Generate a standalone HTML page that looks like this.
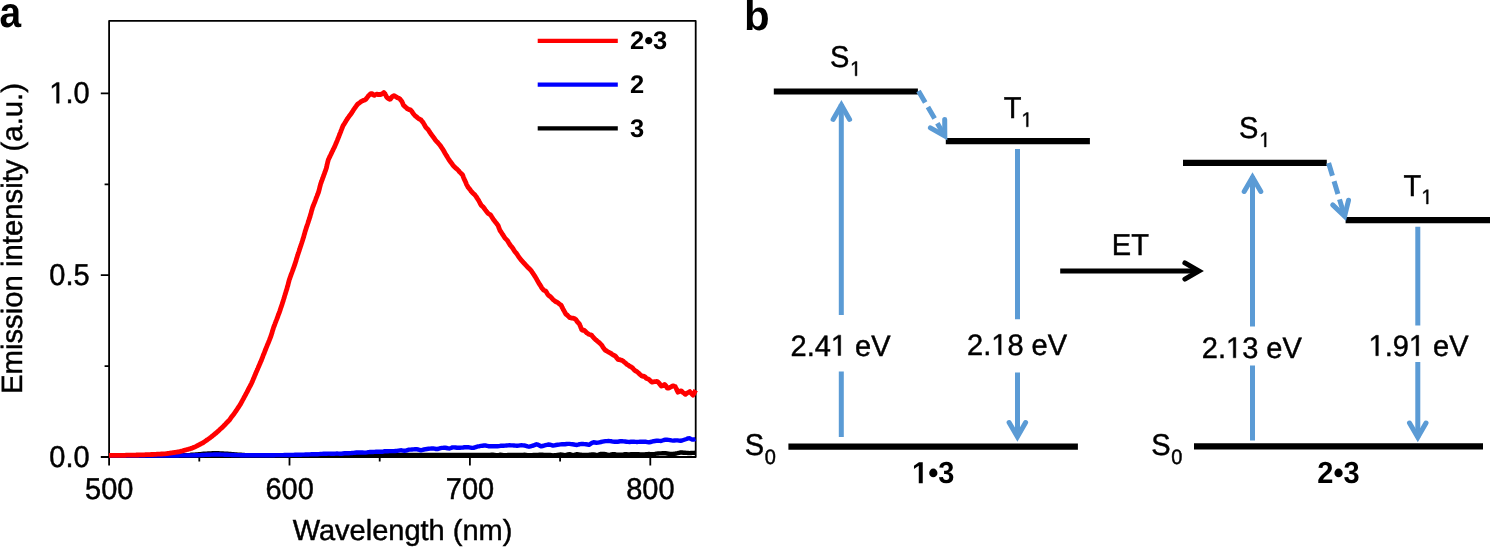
<!DOCTYPE html>
<html><head><meta charset="utf-8">
<style>
html,body{margin:0;padding:0;background:#fff;width:1490px;height:548px;overflow:hidden;}
svg{display:block;will-change:transform;}
text{font-family:"Liberation Sans",sans-serif;fill:#000;text-rendering:geometricPrecision;stroke:#000;stroke-width:0.45px;}
.one{stroke:none;}
.b{font-weight:bold;}
.b text, text.b{stroke:none;}
.one{fill:transparent;}
</style></head><body>
<svg width="1490" height="548" viewBox="0 0 1490 548">
<!-- Panel a -->
<text transform="matrix(0.925 0 0 1.02 -0.6 27)" class="b" font-size="42">a</text>
<g stroke="#000" stroke-width="1.8" fill="none" stroke-linejoin="round">
<rect x="109.1" y="20.9" width="586.6" height="436.1"/>
<path d="M100.8 93.4H109.1M100.8 275.2H109.1M100.8 457H109.1M104.6 184.3H109.1M104.6 366.1H109.1"/>
<path d="M109.1 457V465.5M289.5 457V465.5M469.9 457V465.5M650.3 457V465.5M199.3 457V461.5M379.7 457V461.5M560.1 457V461.5"/>
</g>
<g font-size="29" text-anchor="end">
<text transform="matrix(1 0 0 1.04 89.6 103.2)" x="0" y="0"><tspan class="one">1</tspan>.0</text>
<text transform="matrix(1 0 0 1.04 89.6 285.0)" x="0" y="0">0.5</text>
<text transform="matrix(1 0 0 1.04 89.6 466.6)" x="0" y="0">0.0</text>
</g>
<g font-size="29" text-anchor="middle">
<text transform="matrix(1 0 0 1.04 109.2 498.8)" x="0" y="0">500</text>
<text transform="matrix(1 0 0 1.04 289.6 498.8)" x="0" y="0">600</text>
<text transform="matrix(1 0 0 1.04 470.0 498.8)" x="0" y="0">700</text>
<text transform="matrix(1 0 0 1.04 650.4 498.8)" x="0" y="0">800</text>
<text transform="matrix(1 0 0 1.0 402.5 540.3)" x="0" y="0">Wavelength (nm)</text>
<text transform="translate(22,238.5) rotate(-90)" font-size="29.3">Emission intensity (a.u.)</text>
</g>
<g fill="none" stroke-linejoin="round" stroke-linecap="butt">
<polyline stroke="#000" stroke-width="4.4" points="109.0,455.5 110.5,455.5 112.0,455.5 113.5,455.5 115.0,455.5 116.5,455.5 118.0,455.5 119.5,455.5 121.0,455.5 122.5,455.5 124.0,455.5 125.5,455.5 127.0,455.5 128.5,455.5 130.0,455.5 131.5,455.5 133.0,455.5 134.5,455.5 136.0,455.5 137.5,455.5 139.0,455.5 140.5,455.5 142.0,455.5 143.5,455.5 145.0,455.5 146.5,455.5 148.0,455.5 149.5,455.5 151.0,455.5 152.5,455.5 154.0,455.5 155.5,455.5 157.0,455.5 158.5,455.5 160.0,455.5 161.5,455.5 163.0,455.4 164.5,455.4 166.0,455.4 167.5,455.4 169.0,455.4 170.5,455.4 172.0,455.4 173.5,455.4 175.0,455.4 176.5,455.4 178.0,455.4 179.5,455.4 181.0,455.4 182.5,455.4 184.0,455.3 185.5,455.2 187.0,455.2 188.5,455.1 190.0,455.0 191.5,454.8 193.0,454.7 194.5,454.6 196.0,454.5 197.5,454.4 199.0,454.2 200.5,454.1 202.0,453.9 203.5,453.8 205.0,453.7 206.5,453.6 208.0,453.5 209.5,453.5 211.0,453.4 212.5,453.3 214.0,453.3 215.5,453.3 217.0,453.3 218.5,453.3 220.0,453.4 221.5,453.5 223.0,453.5 224.5,453.6 226.0,453.7 227.5,453.8 229.0,453.9 230.5,454.0 232.0,454.2 233.5,454.3 235.0,454.4 236.5,454.5 238.0,454.6 239.5,454.7 241.0,454.8 242.5,454.9 244.0,455.0 245.5,455.1 247.0,455.1 248.5,455.2 250.0,455.2 251.5,455.2 253.0,455.2 254.5,455.2 256.0,455.2 257.5,455.2 259.0,455.2 260.5,455.2 262.0,455.2 263.5,455.3 265.0,455.3 266.5,455.3 268.0,455.3 269.5,455.3 271.0,455.3 272.5,455.3 274.0,455.3 275.5,455.3 277.0,455.3 278.5,455.3 280.0,455.3 281.5,455.3 283.0,455.3 284.5,455.3 286.0,455.3 287.5,455.3 289.0,455.3 290.5,455.3 292.0,455.3 293.5,455.3 295.0,455.3 296.5,455.3 298.0,455.3 299.5,455.3 301.0,455.3 302.5,455.3 304.0,455.3 305.5,455.3 307.0,455.3 308.5,455.3 310.0,455.3 311.5,455.3 313.0,455.3 314.5,455.3 316.0,455.3 317.5,455.3 319.0,455.3 320.5,455.3 322.0,455.3 323.5,455.3 325.0,455.3 326.5,455.3 328.0,455.3 329.5,455.2 331.0,455.2 332.5,455.2 334.0,455.2 335.5,455.2 337.0,455.2 338.5,455.2 340.0,455.2 341.5,455.2 343.0,455.2 344.5,455.2 346.0,455.2 347.5,455.2 349.0,455.2 350.5,455.2 352.0,455.2 353.5,455.2 355.0,455.2 356.5,455.1 358.0,455.1 359.5,455.1 361.0,455.1 362.5,455.1 364.0,455.1 365.5,455.1 367.0,455.1 368.5,455.1 370.0,455.1 371.5,455.1 373.0,455.1 374.5,455.1 376.0,455.1 377.5,455.1 379.0,455.1 380.5,455.1 382.0,455.0 383.5,455.0 385.0,455.0 386.5,455.0 388.0,455.0 389.5,455.0 391.0,455.0 392.5,455.0 394.0,455.0 395.5,455.0 397.0,455.0 398.5,455.0 400.0,455.0 401.5,455.0 403.0,455.0 404.5,455.0 406.0,455.0 407.5,455.0 409.0,455.0 410.5,455.0 412.0,455.0 413.5,455.0 415.0,455.0 416.5,455.0 418.0,455.0 419.5,455.0 421.0,455.0 422.5,455.0 424.0,455.0 425.5,455.0 427.0,455.0 428.5,455.0 430.0,455.0 431.5,455.0 433.0,455.0 434.5,455.0 436.0,455.0 437.5,455.0 439.0,455.0 440.5,454.9 442.0,454.9 443.5,454.9 445.0,454.9 446.5,454.9 448.0,454.9 449.5,454.9 451.0,454.9 452.5,454.9 454.0,454.9 455.5,454.9 457.0,454.9 458.5,454.9 460.0,454.9 461.5,454.9 463.0,454.9 464.5,454.9 466.0,454.9 467.5,454.9 469.0,454.9 470.5,454.9 472.0,455.0 473.5,455.0 475.0,455.0 476.5,455.0 478.0,455.0 479.5,455.0 481.0,455.0 482.5,455.0 484.0,455.0 485.5,455.0 487.0,455.0 488.5,454.9 490.0,454.9 491.5,454.8 493.0,454.8 494.5,454.9 496.0,455.1 497.5,455.1 499.0,455.0 500.5,454.8 502.0,454.9 503.5,455.1 505.0,455.2 506.5,455.1 508.0,455.0 509.5,454.9 511.0,454.9 512.5,454.9 514.0,454.9 515.5,454.9 517.0,454.9 518.5,454.9 520.0,455.0 521.5,455.0 523.0,454.9 524.5,454.8 526.0,454.9 527.5,455.1 529.0,455.3 530.5,455.2 532.0,455.1 533.5,455.0 535.0,455.0 536.5,454.9 538.0,454.9 539.5,454.8 541.0,454.7 542.5,454.8 544.0,454.9 545.5,454.9 547.0,454.9 548.5,454.9 550.0,455.0 551.5,455.2 553.0,455.4 554.5,455.3 556.0,455.2 557.5,455.0 559.0,454.8 560.5,454.5 562.0,454.6 563.5,454.9 565.0,455.3 566.5,454.8 568.0,454.4 569.5,454.2 571.0,454.7 572.5,455.2 574.0,455.0 575.5,454.6 577.0,454.2 578.5,454.4 580.0,454.6 581.5,454.8 583.0,454.9 584.5,455.0 586.0,455.0 587.5,454.9 589.0,454.8 590.5,454.6 592.0,454.4 593.5,454.4 595.0,454.7 596.5,455.1 598.0,454.9 599.5,454.4 601.0,453.9 602.5,454.0 604.0,454.0 605.5,454.2 607.0,454.6 608.5,455.0 610.0,454.9 611.5,454.5 613.0,454.2 614.5,454.3 616.0,454.5 617.5,454.6 619.0,454.6 620.5,454.7 622.0,454.6 623.5,454.5 625.0,454.3 626.5,454.3 628.0,454.4 629.5,454.4 631.0,454.3 632.5,454.3 634.0,454.2 635.5,454.2 637.0,454.2 638.5,454.3 640.0,454.5 641.5,454.5 643.0,454.4 644.5,454.4 646.0,454.3 647.5,454.2 649.0,454.0 650.5,454.1 652.0,454.2 653.5,454.1 655.0,453.9 656.5,453.6 658.0,453.5 659.5,453.4 661.0,453.4 662.5,453.3 664.0,453.2 665.5,453.3 667.0,453.5 668.5,453.7 670.0,453.9 671.5,453.9 673.0,454.0 674.5,453.8 676.0,453.5 677.5,453.2 679.0,452.8 680.5,452.5 682.0,452.5 683.5,452.7 685.0,452.8 686.5,452.9 688.0,453.0 689.5,453.1 691.0,453.0 692.5,452.9 694.0,452.9 695.5,452.8"/>
<polyline stroke="#0000ff" stroke-width="4.4" points="109.0,455.5 110.5,455.5 112.0,455.5 113.5,455.5 115.0,455.5 116.5,455.5 118.0,455.5 119.5,455.5 121.0,455.5 122.5,455.5 124.0,455.5 125.5,455.5 127.0,455.5 128.5,455.5 130.0,455.5 131.5,455.5 133.0,455.5 134.5,455.5 136.0,455.5 137.5,455.5 139.0,455.5 140.5,455.5 142.0,455.5 143.5,455.5 145.0,455.5 146.5,455.5 148.0,455.5 149.5,455.5 151.0,455.5 152.5,455.5 154.0,455.5 155.5,455.5 157.0,455.5 158.5,455.5 160.0,455.5 161.5,455.5 163.0,455.5 164.5,455.5 166.0,455.5 167.5,455.5 169.0,455.5 170.5,455.5 172.0,455.5 173.5,455.5 175.0,455.5 176.5,455.5 178.0,455.5 179.5,455.4 181.0,455.4 182.5,455.4 184.0,455.4 185.5,455.4 187.0,455.4 188.5,455.4 190.0,455.4 191.5,455.4 193.0,455.4 194.5,455.3 196.0,455.3 197.5,455.2 199.0,455.1 200.5,455.1 202.0,455.0 203.5,455.0 205.0,454.9 206.5,454.8 208.0,454.8 209.5,454.7 211.0,454.6 212.5,454.6 214.0,454.5 215.5,454.5 217.0,454.5 218.5,454.5 220.0,454.5 221.5,454.6 223.0,454.6 224.5,454.7 226.0,454.8 227.5,454.8 229.0,454.9 230.5,454.9 232.0,455.0 233.5,455.0 235.0,455.0 236.5,455.1 238.0,455.1 239.5,455.1 241.0,455.2 242.5,455.2 244.0,455.2 245.5,455.3 247.0,455.3 248.5,455.3 250.0,455.3 251.5,455.3 253.0,455.3 254.5,455.3 256.0,455.3 257.5,455.3 259.0,455.3 260.5,455.3 262.0,455.3 263.5,455.2 265.0,455.2 266.5,455.2 268.0,455.2 269.5,455.2 271.0,455.2 272.5,455.2 274.0,455.2 275.5,455.1 277.0,455.1 278.5,455.1 280.0,455.1 281.5,455.1 283.0,455.1 284.5,455.0 286.0,455.0 287.5,455.0 289.0,455.0 290.5,454.9 292.0,454.9 293.5,454.9 295.0,454.8 296.5,454.8 298.0,454.8 299.5,454.7 301.0,454.7 302.5,454.6 304.0,454.6 305.5,454.5 307.0,454.5 308.5,454.5 310.0,454.4 311.5,454.3 313.0,454.2 314.5,454.2 316.0,454.2 317.5,454.2 319.0,454.1 320.5,453.9 322.0,453.9 323.5,453.8 325.0,453.8 326.5,453.7 328.0,453.6 329.5,453.6 331.0,453.7 332.5,453.7 334.0,453.7 335.5,453.6 337.0,453.5 338.5,453.6 340.0,453.7 341.5,453.7 343.0,453.5 344.5,453.3 346.0,453.2 347.5,453.2 349.0,453.2 350.5,453.1 352.0,453.0 353.5,452.9 355.0,452.7 356.5,452.5 358.0,452.5 359.5,452.5 361.0,452.4 362.5,452.5 364.0,452.6 365.5,452.6 367.0,452.4 368.5,452.1 370.0,452.0 371.5,452.0 373.0,452.0 374.5,451.9 376.0,451.8 377.5,451.7 379.0,451.8 380.5,451.8 382.0,451.7 383.5,451.5 385.0,451.2 386.5,451.2 388.0,451.2 389.5,451.1 391.0,451.1 392.5,451.1 394.0,451.1 395.5,451.0 397.0,450.9 398.5,450.6 400.0,450.4 401.5,450.3 403.0,450.6 404.5,450.8 406.0,450.6 407.5,450.1 409.0,449.6 410.5,449.6 412.0,449.5 413.5,449.4 415.0,449.3 416.5,449.2 418.0,449.5 419.5,449.8 421.0,450.3 422.5,449.9 424.0,449.5 425.5,449.2 427.0,449.0 428.5,448.8 430.0,448.6 431.5,448.5 433.0,448.4 434.5,448.7 436.0,449.0 437.5,449.0 439.0,448.6 440.5,448.2 442.0,447.9 443.5,447.8 445.0,447.6 446.5,448.0 448.0,448.4 449.5,448.5 451.0,448.0 452.5,447.4 454.0,447.4 455.5,447.5 457.0,447.7 458.5,447.7 460.0,447.7 461.5,447.6 463.0,447.5 464.5,447.3 466.0,447.2 467.5,447.3 469.0,447.3 470.5,447.6 472.0,447.9 473.5,447.9 475.0,447.3 476.5,446.8 478.0,446.4 479.5,446.2 481.0,445.9 482.5,445.7 484.0,445.5 485.5,445.5 487.0,445.8 488.5,446.2 490.0,446.3 491.5,446.2 493.0,446.1 494.5,446.2 496.0,446.3 497.5,446.3 499.0,446.1 500.5,445.8 502.0,445.7 503.5,445.7 505.0,445.6 506.5,445.5 508.0,445.4 509.5,445.3 511.0,445.4 512.5,445.4 514.0,445.5 515.5,445.6 517.0,445.8 518.5,445.6 520.0,445.4 521.5,445.3 523.0,445.4 524.5,445.5 526.0,445.8 527.5,446.3 529.0,446.7 530.5,446.3 532.0,445.9 533.5,445.5 535.0,444.9 536.5,444.3 538.0,444.7 539.5,445.5 541.0,446.4 542.5,446.0 544.0,445.6 545.5,445.2 547.0,444.8 548.5,444.5 550.0,444.7 551.5,445.1 553.0,445.6 554.5,445.3 556.0,445.0 557.5,444.8 559.0,444.6 560.5,444.4 562.0,444.3 563.5,444.2 565.0,444.2 566.5,444.0 568.0,443.9 569.5,443.9 571.0,444.1 572.5,444.3 574.0,444.5 575.5,444.8 577.0,445.0 578.5,444.5 580.0,444.1 581.5,443.9 583.0,444.0 584.5,444.1 586.0,444.3 587.5,444.5 589.0,444.8 590.5,443.8 592.0,442.8 593.5,442.3 595.0,442.5 596.5,442.7 598.0,442.6 599.5,442.3 601.0,442.0 602.5,441.7 604.0,441.4 605.5,441.1 607.0,441.1 608.5,441.0 610.0,441.1 611.5,441.3 613.0,441.6 614.5,441.7 616.0,441.8 617.5,441.8 619.0,441.5 620.5,441.2 622.0,441.2 623.5,441.4 625.0,441.5 626.5,441.7 628.0,441.9 629.5,442.0 631.0,441.8 632.5,441.7 634.0,441.8 635.5,441.9 637.0,442.0 638.5,441.9 640.0,441.8 641.5,441.7 643.0,441.7 644.5,441.6 646.0,441.8 647.5,442.1 649.0,442.4 650.5,442.0 652.0,441.6 653.5,441.2 655.0,441.0 656.5,440.8 658.0,440.8 659.5,440.9 661.0,441.0 662.5,440.5 664.0,440.0 665.5,439.7 667.0,439.8 668.5,439.9 670.0,440.1 671.5,440.4 673.0,440.6 674.5,440.5 676.0,440.4 677.5,440.4 679.0,440.6 680.5,440.8 682.0,440.5 683.5,440.0 685.0,439.5 686.5,439.0 688.0,438.4 689.5,438.3 691.0,439.0 692.5,439.6 694.0,439.5 695.5,439.0"/>
<polyline stroke="#ff0000" stroke-width="4.8" points="109.0,455.4 109.8,455.4 110.6,455.4 111.4,455.4 112.3,455.4 113.1,455.4 113.9,455.4 114.7,455.3 115.5,455.3 116.3,455.3 117.1,455.3 118.0,455.3 118.8,455.3 119.6,455.3 120.4,455.3 121.2,455.3 122.0,455.3 122.8,455.3 123.7,455.3 124.5,455.3 125.3,455.3 126.1,455.2 126.9,455.2 127.7,455.2 128.5,455.2 129.4,455.2 130.2,455.2 131.0,455.2 131.8,455.2 132.6,455.2 133.4,455.1 134.2,455.1 135.0,455.1 135.8,455.1 136.6,455.0 137.5,455.0 138.3,455.0 139.1,454.9 139.9,454.9 140.7,454.9 141.5,454.9 142.3,454.8 143.1,454.8 143.9,454.8 144.7,454.8 145.5,454.7 146.3,454.7 147.2,454.7 148.0,454.6 148.8,454.6 149.6,454.6 150.4,454.6 151.2,454.5 152.0,454.5 152.8,454.5 153.7,454.4 154.5,454.4 155.3,454.3 156.2,454.3 157.0,454.2 157.9,454.2 158.7,454.1 159.5,454.1 160.4,454.1 161.2,454.0 162.1,454.0 162.9,453.9 163.7,453.9 164.6,453.8 165.4,453.8 166.2,453.7 167.1,453.6 167.9,453.4 168.8,453.3 169.6,453.2 170.4,453.1 171.3,452.9 172.1,452.8 172.9,452.7 173.8,452.6 174.6,452.4 175.5,452.3 176.3,452.2 177.1,452.1 178.0,451.9 178.8,451.8 179.6,451.6 180.4,451.4 181.1,451.2 181.9,451.0 182.7,450.8 183.4,450.6 184.2,450.4 185.0,450.2 185.8,450.0 186.6,449.7 187.4,449.5 188.2,449.3 189.0,449.0 189.8,448.8 190.6,448.6 191.4,448.3 192.2,448.1 193.0,447.7 193.9,447.3 194.7,447.0 195.6,446.6 196.4,446.2 197.1,445.8 197.8,445.4 198.6,445.1 199.3,444.7 200.0,444.3 200.7,443.9 201.4,443.5 202.2,443.2 202.9,442.8 203.6,442.4 204.3,441.9 205.0,441.4 205.7,440.9 206.4,440.4 207.2,439.9 207.9,439.4 208.6,438.9 209.3,438.4 210.0,437.9 210.6,437.4 211.3,436.9 211.9,436.4 212.5,435.9 213.2,435.4 213.8,434.8 214.4,434.3 215.0,433.8 215.7,433.3 216.3,432.8 216.9,432.2 217.6,431.6 218.2,431.1 218.9,430.5 219.5,429.9 220.1,429.3 220.8,428.7 221.4,428.2 222.1,427.6 222.7,427.0 223.3,426.4 223.8,425.8 224.4,425.2 224.9,424.7 225.5,424.1 226.1,423.5 226.6,422.9 227.2,422.3 227.7,421.8 228.3,421.2 228.8,420.6 229.4,420.0 229.9,419.3 230.4,418.6 230.9,417.9 231.4,417.2 231.9,416.5 232.4,415.9 233.0,415.2 233.5,414.5 234.0,413.8 234.5,413.1 235.0,412.4 235.5,411.7 236.0,411.0 236.4,410.3 236.9,409.6 237.4,408.9 237.8,408.2 238.3,407.5 238.7,406.8 239.2,406.1 239.7,405.4 240.1,404.7 240.6,404.0 241.0,403.2 241.4,402.4 241.9,401.6 242.3,400.8 242.7,400.0 243.1,399.2 243.6,398.4 244.0,397.6 244.5,396.8 244.9,396.0 245.3,395.2 245.7,394.5 246.1,393.8 246.5,393.0 246.9,392.2 247.3,391.5 247.7,390.8 248.1,390.0 248.4,389.2 248.8,388.5 249.2,387.8 249.6,387.0 250.0,386.2 250.4,385.5 250.8,384.8 251.2,384.0 251.6,383.2 251.9,382.4 252.3,381.6 252.6,380.8 253.0,380.0 253.3,379.2 253.6,378.4 254.0,377.6 254.3,376.8 254.6,376.0 254.9,375.2 255.3,374.5 255.6,373.7 255.9,373.0 256.2,372.2 256.6,371.4 256.9,370.7 257.2,369.9 257.6,369.1 257.9,368.4 258.2,367.6 258.5,366.9 258.9,366.1 259.2,365.3 259.5,364.6 259.9,363.8 260.2,363.0 260.5,362.3 260.8,361.5 261.2,360.8 261.5,360.0 261.8,359.2 262.1,358.4 262.4,357.6 262.7,356.8 263.0,356.0 263.3,355.2 263.6,354.4 264.0,353.6 264.3,352.8 264.6,352.0 264.9,351.2 265.2,350.5 265.5,349.7 265.8,349.0 266.1,348.2 266.4,347.4 266.7,346.7 267.0,345.9 267.3,345.1 267.6,344.4 268.0,343.6 268.3,342.9 268.6,342.1 268.9,341.3 269.2,340.6 269.5,339.8 269.8,339.0 270.1,338.3 270.4,337.5 270.7,336.8 271.0,336.0 271.2,335.2 271.5,334.4 271.7,333.6 272.0,332.8 272.2,332.0 272.4,331.2 272.7,330.4 272.9,329.6 273.2,328.8 273.4,328.0 273.7,327.2 274.0,326.5 274.3,325.7 274.6,325.0 274.9,324.2 275.1,323.4 275.4,322.7 275.7,321.9 276.0,321.1 276.3,320.4 276.6,319.6 276.9,318.9 277.2,318.1 277.5,317.3 277.8,316.6 278.0,315.8 278.3,315.0 278.6,314.3 278.9,313.5 279.2,312.8 279.5,312.0 279.8,311.2 280.0,310.4 280.3,309.6 280.5,308.8 280.8,308.0 281.1,307.2 281.4,306.4 281.6,305.6 281.9,304.8 282.2,304.0 282.4,303.2 282.7,302.4 282.9,301.6 283.2,300.8 283.4,300.0 283.7,299.2 283.9,298.4 284.2,297.6 284.4,296.8 284.6,296.0 284.9,295.2 285.1,294.4 285.4,293.6 285.6,292.8 285.9,292.0 286.1,291.2 286.4,290.4 286.6,289.6 286.9,288.8 287.1,288.0 287.3,287.2 287.5,286.4 287.8,285.6 288.0,284.8 288.2,284.0 288.4,283.2 288.6,282.4 288.8,281.6 289.0,280.8 289.2,280.0 289.5,279.2 289.8,278.5 290.0,277.7 290.3,277.0 290.6,276.2 290.9,275.4 291.1,274.7 291.4,273.9 291.7,273.1 292.0,272.4 292.2,271.6 292.5,270.9 292.8,270.1 293.1,269.3 293.3,268.6 293.6,267.8 293.9,267.0 294.2,266.3 294.4,265.5 294.7,264.8 295.0,264.0 295.2,263.2 295.5,262.4 295.7,261.6 296.0,260.8 296.2,260.0 296.4,259.2 296.7,258.4 296.9,257.6 297.2,256.8 297.4,256.0 297.7,255.2 297.9,254.5 298.2,253.7 298.4,253.0 298.7,252.2 298.9,251.4 299.2,250.7 299.4,249.9 299.7,249.1 299.9,248.4 300.2,247.6 300.4,246.9 300.7,246.1 300.9,245.3 301.2,244.6 301.4,243.8 301.7,243.0 301.9,242.3 302.2,241.5 302.4,240.8 302.7,240.0 302.9,239.2 303.2,238.4 303.4,237.6 303.7,236.8 303.9,236.0 304.1,235.2 304.3,234.4 304.6,233.6 304.8,232.8 305.0,232.0 305.2,231.2 305.5,230.5 305.7,229.7 306.0,229.0 306.2,228.2 306.5,227.4 306.7,226.7 307.0,225.9 307.2,225.1 307.5,224.4 307.7,223.6 308.0,222.9 308.2,222.1 308.5,221.3 308.7,220.6 309.0,219.8 309.2,219.0 309.5,218.3 309.7,217.5 310.0,216.8 310.2,216.0 310.4,215.2 310.6,214.4 310.9,213.6 311.1,212.8 311.3,212.0 311.5,211.2 311.7,210.4 312.0,209.6 312.2,208.8 312.4,208.0 312.7,207.2 313.0,206.5 313.3,205.7 313.6,205.0 313.9,204.2 314.2,203.4 314.5,202.7 314.8,201.9 315.1,201.1 315.4,200.4 315.6,199.6 315.9,198.9 316.2,198.1 316.5,197.3 316.8,196.6 317.1,195.8 317.4,195.0 317.7,194.3 318.0,193.5 318.3,192.8 318.6,192.0 318.8,191.2 319.0,190.4 319.2,189.6 319.4,188.8 319.6,188.0 319.8,187.2 320.0,186.4 320.2,185.6 320.4,184.8 320.6,184.0 320.9,183.2 321.2,182.5 321.4,181.7 321.7,181.0 322.0,180.2 322.3,179.5 322.5,178.7 322.8,178.0 323.1,177.2 323.4,176.5 323.6,175.7 323.9,175.0 324.2,174.2 324.5,173.5 324.7,172.7 325.0,172.0 325.3,171.2 325.6,170.4 325.8,169.6 326.1,168.8 326.4,168.0 326.6,167.2 326.8,166.3 326.9,165.5 327.1,164.7 327.3,163.8 327.5,163.0 327.7,162.2 327.9,161.4 328.1,160.6 328.3,159.8 328.6,159.1 329.0,158.4 329.3,157.7 329.6,157.0 330.0,156.3 330.3,155.6 330.7,154.9 331.0,154.2 331.3,153.5 331.7,152.8 332.0,152.1 332.3,151.4 332.7,150.7 333.0,150.0 333.3,149.3 333.7,148.6 334.0,147.9 334.4,147.2 334.7,146.5 335.0,145.8 335.4,145.0 335.7,144.2 336.0,143.4 336.4,142.6 336.7,141.7 337.1,140.9 337.4,140.1 337.7,139.2 338.1,138.4 338.4,137.5 338.8,136.7 339.1,135.8 339.4,135.0 339.7,134.3 340.0,133.5 340.3,132.8 340.6,132.1 340.9,131.3 341.1,130.6 341.4,129.9 341.7,129.2 342.0,128.4 342.3,127.6 342.6,126.8 342.9,126.1 343.4,125.3 343.8,124.5 344.3,123.8 344.8,123.0 345.2,122.3 345.7,121.5 346.1,120.8 346.6,120.0 347.1,119.2 347.6,118.5 348.1,117.7 348.7,116.9 349.2,116.2 349.7,115.5 350.2,114.9 350.7,114.3 351.1,113.7 351.6,113.0 352.0,112.3 352.5,111.5 353.0,110.8 353.4,110.1 353.9,109.3 354.4,108.6 354.9,107.9 355.4,107.2 356.0,106.4 356.5,105.7 357.0,105.0 357.5,104.3 358.2,103.8 359.0,103.3 359.7,102.7 360.5,102.0 361.2,101.5 361.9,101.1 362.6,100.8 363.4,100.4 364.1,100.2 364.8,100.0 365.4,99.6 366.0,99.1 366.6,98.3 367.3,97.4 367.9,96.6 368.5,95.8 369.2,95.1 369.9,94.3 370.7,93.7 371.4,93.7 372.1,93.7 372.8,94.7 373.6,95.1 374.3,95.4 375.0,94.8 375.8,94.5 376.5,94.3 377.2,94.1 378.1,94.6 379.0,94.5 380.0,94.4 380.9,94.5 381.6,94.1 382.4,93.6 383.1,93.1 383.8,92.5 384.4,93.1 385.0,93.7 385.5,94.8 386.1,96.0 386.7,97.1 387.6,98.0 388.5,98.7 389.5,99.3 390.4,99.2 391.1,98.2 391.8,97.1 392.6,96.4 393.3,96.0 394.0,95.6 395.0,96.1 395.9,96.8 396.9,97.4 397.6,97.8 398.4,98.1 399.1,98.3 399.9,98.9 400.4,99.6 400.9,100.3 401.5,101.0 402.0,101.7 402.4,102.6 402.8,103.5 403.1,104.4 403.5,105.3 404.2,105.9 405.0,106.6 405.7,107.2 406.5,107.9 407.2,108.7 408.2,109.1 409.1,109.6 410.1,109.6 410.7,110.1 411.3,110.7 411.8,111.5 412.4,112.3 413.0,113.2 413.6,114.0 414.2,114.7 414.7,115.3 415.3,115.8 415.9,116.3 416.6,116.9 417.4,117.6 418.1,118.2 418.8,118.8 419.4,119.1 419.9,119.3 420.5,119.6 421.0,119.9 421.6,120.7 422.2,121.4 422.7,122.1 423.3,122.8 423.8,123.7 424.4,124.7 424.9,125.7 425.5,126.7 426.0,127.5 426.6,128.1 427.1,128.6 427.7,129.1 428.2,129.6 428.7,130.5 429.3,131.4 429.8,132.3 430.4,133.1 430.9,133.9 431.5,134.6 432.0,135.3 432.5,136.0 433.0,136.6 433.5,137.3 434.0,138.0 434.5,138.7 435.0,139.5 435.5,140.2 436.0,140.7 436.5,141.3 437.1,141.8 437.6,142.4 438.1,143.0 438.7,143.7 439.2,144.3 439.8,145.0 440.3,145.6 440.7,146.2 441.1,146.8 441.5,147.4 441.9,148.0 442.3,148.6 442.7,149.2 443.1,149.9 443.5,150.5 443.9,151.2 444.3,151.8 444.6,152.5 445.0,153.2 445.4,153.9 445.8,154.6 446.3,155.3 446.7,156.0 447.2,156.7 447.6,157.4 448.1,158.2 448.5,158.9 449.0,159.7 449.4,160.4 449.9,161.0 450.3,161.6 450.8,162.2 451.2,162.8 451.7,163.4 452.1,164.0 452.6,164.7 453.0,165.4 453.6,166.0 454.2,166.6 454.9,167.2 455.5,167.8 456.1,168.3 456.8,168.9 457.4,169.5 458.0,170.0 458.6,170.7 459.1,171.4 459.6,172.0 460.2,172.5 460.8,173.1 461.3,173.6 461.8,174.2 462.4,174.6 462.7,175.3 463.0,176.0 463.2,176.7 463.5,177.4 463.8,178.2 464.1,178.9 464.5,179.7 464.9,180.6 465.3,181.4 465.7,182.3 466.1,183.2 466.4,184.1 466.8,184.9 467.2,185.6 467.6,186.3 468.0,187.1 468.5,187.7 469.1,188.4 469.6,189.1 470.2,189.8 470.7,190.6 471.2,191.3 471.8,191.9 472.3,192.5 472.8,193.0 473.4,193.6 473.9,194.1 474.5,194.5 475.0,195.0 475.4,195.6 475.9,196.1 476.3,196.8 476.7,197.5 477.1,198.2 477.6,198.9 478.0,199.6 478.6,200.3 479.1,201.3 479.7,202.4 480.2,203.5 480.8,204.6 481.3,205.4 481.9,205.9 482.5,206.4 483.0,206.8 483.6,207.4 484.1,208.2 484.7,209.0 485.2,209.8 485.8,210.5 486.3,211.2 486.9,211.9 487.4,212.6 488.0,213.3 488.5,213.7 489.0,214.0 489.5,214.3 490.0,214.6 490.5,214.9 491.0,215.6 491.5,216.4 492.0,217.3 492.5,218.1 493.0,218.9 493.5,219.6 494.0,220.2 494.5,220.9 495.0,221.5 495.5,222.2 496.0,222.8 496.5,223.4 497.0,224.1 497.5,224.7 498.0,225.3 498.3,226.2 498.6,227.0 498.9,227.8 499.3,228.7 499.6,229.5 499.9,230.3 500.4,231.0 500.8,231.7 501.3,232.4 501.8,233.1 502.2,233.8 502.7,234.5 503.1,235.2 503.6,235.9 504.1,236.7 504.5,237.4 505.0,238.1 505.5,238.6 506.0,239.1 506.5,239.6 507.0,240.1 507.5,240.6 508.0,241.5 508.5,242.4 509.0,243.2 509.5,244.1 510.0,244.9 510.5,245.5 511.1,246.1 511.6,246.8 512.2,247.4 512.7,248.2 513.3,249.1 513.8,249.9 514.3,250.7 514.8,251.5 515.3,252.1 515.9,252.7 516.4,253.4 516.9,254.0 517.4,254.8 517.9,255.6 518.5,256.5 519.0,257.3 519.6,258.0 520.1,258.7 520.7,259.4 521.2,260.1 521.8,260.8 522.4,261.4 522.9,262.0 523.5,262.6 524.0,263.2 524.6,263.8 525.2,264.5 525.8,265.1 526.4,265.7 527.0,266.4 527.5,267.0 528.1,267.6 528.7,268.2 529.3,268.7 529.9,269.3 530.5,269.9 531.0,270.5 531.5,271.2 532.0,271.9 532.5,272.7 533.0,273.4 533.5,274.2 534.0,274.9 534.4,275.6 534.9,276.2 535.3,276.9 535.7,277.6 536.1,278.3 536.6,279.1 537.0,279.9 537.5,280.7 537.9,281.5 538.4,282.4 538.8,283.1 539.3,283.8 539.7,284.5 540.2,285.2 540.6,285.9 541.1,286.6 541.5,287.4 542.0,288.2 542.5,288.8 543.1,289.5 543.6,290.0 544.2,290.3 544.8,290.6 545.3,290.9 545.9,291.3 546.4,292.2 547.0,293.1 547.5,294.0 548.1,294.9 548.6,295.4 549.1,295.8 549.7,296.2 550.2,296.6 550.8,297.0 551.4,297.7 551.9,298.3 552.5,298.9 553.0,299.6 553.7,300.1 554.5,300.7 555.2,301.2 555.9,301.7 556.6,302.0 557.4,302.4 558.1,302.9 558.8,303.5 559.5,304.1 560.3,304.7 561.0,305.0 561.4,305.8 561.8,306.5 562.1,307.3 562.5,308.0 562.9,308.8 563.3,309.6 563.7,310.2 564.1,310.9 564.5,311.6 564.8,312.2 565.2,312.9 565.6,313.7 566.0,314.4 566.8,314.8 567.5,315.3 568.2,316.1 569.0,316.9 569.8,317.6 570.5,317.8 571.2,318.0 572.0,318.1 572.8,318.2 573.6,318.4 574.4,318.6 575.2,319.1 576.0,319.7 576.5,320.6 577.0,321.4 577.5,322.0 578.0,322.5 578.5,323.0 579.0,323.5 579.5,324.2 579.9,325.2 580.4,326.3 580.8,327.4 581.3,328.5 581.7,329.6 582.2,330.1 582.6,330.4 583.3,330.3 584.0,330.1 584.7,330.7 585.4,331.5 586.2,332.3 586.9,333.0 587.6,333.4 588.3,333.9 589.0,334.3 589.6,334.5 590.3,334.7 590.9,334.9 591.6,335.2 592.2,336.0 592.9,336.8 593.5,337.5 594.1,338.2 594.8,338.9 595.4,339.5 596.1,340.1 596.7,340.5 597.3,341.1 598.0,341.6 598.6,342.2 599.2,342.7 599.9,343.3 600.5,343.9 601.2,344.6 601.8,345.3 602.3,346.1 602.8,346.9 603.3,347.7 603.8,348.3 604.3,349.0 604.8,349.6 605.3,350.2 606.0,350.5 606.7,351.0 607.4,351.4 608.1,351.9 608.8,352.2 609.5,352.6 610.1,352.9 610.8,353.3 611.5,353.8 612.2,354.4 612.9,354.9 613.6,355.1 614.2,355.5 614.9,355.8 615.5,356.2 616.1,357.0 616.7,357.9 617.4,358.7 618.0,359.4 618.8,359.6 619.6,359.7 620.4,359.9 621.2,360.2 622.0,360.4 622.8,360.8 623.5,361.4 624.2,362.1 625.0,362.7 625.8,363.3 626.5,364.0 627.2,364.6 628.0,364.9 628.6,365.4 629.2,365.8 629.8,366.3 630.5,366.6 631.1,367.0 631.7,367.3 632.3,367.7 633.0,368.5 633.6,369.2 634.3,370.0 635.0,370.5 635.6,370.9 636.3,371.3 637.0,371.6 637.6,372.2 638.3,372.8 639.0,373.5 639.6,374.1 640.3,374.7 641.0,375.3 641.7,375.9 642.3,376.2 643.0,376.3 643.8,376.2 644.6,376.6 645.5,377.4 646.3,378.3 647.1,378.7 647.9,378.8 648.5,379.2 649.1,379.6 649.7,380.1 650.4,380.7 651.0,381.3 651.6,381.8 652.2,382.2 653.1,382.0 654.0,381.7 654.9,381.7 655.8,381.6 656.7,381.5 657.6,381.6 658.2,382.2 658.8,382.9 659.5,383.7 660.1,384.5 660.7,385.3 661.3,386.1 662.1,385.8 663.0,385.6 663.8,385.1 664.6,384.4 665.1,384.9 665.6,385.5 666.2,386.3 666.7,387.2 667.2,388.1 668.2,388.2 669.1,387.8 670.0,387.3 671.0,386.8 671.9,386.3 672.7,385.9 673.6,386.0 674.4,386.3 675.3,386.6 675.7,387.5 676.1,388.3 676.5,389.1 676.8,389.9 677.2,390.7 677.6,391.5 678.0,392.2 678.8,391.8 679.6,391.3 680.4,391.0 681.2,390.8 681.9,391.5 682.6,392.2 683.4,392.7 684.1,393.3 684.8,393.9 685.5,394.3 686.4,393.6 687.2,393.0 688.1,392.5 688.9,392.1 689.8,391.6 690.4,392.4 691.1,393.1 691.7,393.8 692.4,394.5 693.0,395.1 693.5,394.3 693.9,393.4 694.4,392.6 694.8,391.8 695.2,391.0 695.7,390.1"/>
</g>
<g stroke-width="4.4">
<line x1="537.7" y1="40.9" x2="617.8" y2="40.9" stroke="#ff0000"/>
<line x1="537.7" y1="84.6" x2="617.8" y2="84.6" stroke="#0000ff"/>
<line x1="537.7" y1="128.4" x2="617.8" y2="128.4" stroke="#000"/>
</g>
<g font-size="25.5" class="b">
<text y="49.3" x="630">2•3</text>
<text y="92.9" x="630">2</text>
<text y="136.6" x="630">3</text>
</g>

<!-- Panel b -->
<text y="30.3" x="744" class="b" font-size="42">b</text>
<g stroke="#000" stroke-width="6.2">
<line x1="773.8" y1="91.5" x2="917.9" y2="91.5"/>
<line x1="945.8" y1="141.2" x2="1089.9" y2="141.2"/>
<line x1="788.4" y1="446.7" x2="1077.9" y2="446.7"/>
<line x1="1183" y1="162.8" x2="1326.8" y2="162.8"/>
<line x1="1345.6" y1="220.2" x2="1492" y2="220.2"/>
<line x1="1194" y1="446.3" x2="1483" y2="446.3"/>
</g>
<g font-size="29">
<text transform="matrix(1 0 0 1.04 830.0 66.6)" x="0" y="0">S<tspan font-size="20" dx="0.8" dy="8.85" class="one">1</tspan></text>
<text transform="matrix(1 0 0 1.04 1003.7 117.8)" x="0" y="0">T<tspan font-size="20" dx="0" dy="8.67" class="one">1</tspan></text>
<text transform="matrix(1 0 0 1.04 744.8 455.15)" x="0" y="0">S<tspan font-size="20" dx="0.55" dy="8.51">0</tspan></text>
<text transform="matrix(1 0 0 1.04 1239.0 137.6)" x="0" y="0">S<tspan font-size="20" dx="1" dy="8.95" class="one">1</tspan></text>
<text transform="matrix(1 0 0 1.04 1403.4 196.15)" x="0" y="0">T<tspan font-size="20" dx="0.3" dy="7.55" class="one">1</tspan></text>
<text transform="matrix(1 0 0 1.04 1151.3 455.15)" x="0" y="0">S<tspan font-size="20" dx="0.5" dy="8.17">0</tspan></text>
<text transform="matrix(1 0 0 1.02 790.5 355.5)" x="0" y="0">2.4<tspan class="one">1</tspan> eV</text>
<text transform="matrix(1 0 0 1.02 967.1 354.7)" x="0" y="0">2.<tspan class="one">1</tspan>8 eV</text>
<text transform="matrix(1 0 0 1.02 1201.8 357.8)" x="0" y="0">2.<tspan class="one">1</tspan>3 eV</text>
<text transform="matrix(1 0 0 1.02 1368.5 355.7)" x="0" y="0"><tspan class="one">1</tspan>.9<tspan class="one">1</tspan> eV</text>
<text transform="matrix(1 0 0 1.04 1111.8 254.7)" x="0" y="0">ET</text>
</g>
<g font-size="29" class="b">
<text transform="matrix(1 0 0 1.05 912.0 483.2)" x="0" y="0"><tspan class="one">1</tspan>•3</text>
<text transform="matrix(1 0 0 1.05 1317.3 483.2)" x="0" y="0">2•3</text>
</g>
<g stroke="#5b9bd5" stroke-width="5" fill="none" stroke-linecap="butt">
<!-- left up -->
<path d="M841.3 437V371.6M841.3 315V104"/>
<!-- left down -->
<path d="M1017.5 149V319.2M1017.5 372.4V437"/>
<!-- right up -->
<path d="M1252.5 440.5V365.5M1252.5 326.5V176"/>
<!-- right down -->
<path d="M1417.8 226.7V325.5M1417.8 362V437.5"/>
<!-- dashed -->
<path d="M918.5 90.9L944.8 136.0" stroke-dasharray="13.3 5.4"/>
<path d="M1328.6 163.0L1344.6 216.3" stroke-dasharray="13.4 5.6"/>
</g>
<g stroke="#5b9bd5" stroke-width="5" fill="none" stroke-linecap="round" stroke-linejoin="miter" stroke-miterlimit="10">
<path d="M833.1 119.4L841.4 105.1L849.6 119.4"/>
<path d="M1025.6 422.5L1017.4 436.8L1009.1 422.5"/>
<path d="M1244.2 191.5L1252.5 177.2L1260.8 191.5"/>
<path d="M1426.0 423.0L1417.8 437.3L1409.5 423.0"/>
<path d="M944.7 119.5L944.8 136.0L930.4 127.8"/>
<path d="M1348.5 200.3L1344.6 216.3L1332.7 204.9"/>
</g>
<g stroke="#000" stroke-width="5" fill="none">
<line x1="1060.2" y1="271" x2="1198" y2="271"/>
</g>
<g stroke="#000" stroke-width="5" fill="none" stroke-linecap="round" stroke-linejoin="miter">
<path d="M1184.9 262.9L1198.9 271.0L1184.9 279.1"/>
</g>
<g id="ones" fill="#000">
<path transform="matrix(0.01416 0.00000 0.00000 -0.01473 49.27187 103.20000)" d="M515 0L515 1237L197 1010L197 1180L530 1409L696 1409L696 0Z" stroke="#000" stroke-width="0.45" vector-effect="non-scaling-stroke"/>
<path transform="matrix(0.00977 0.00000 0.00000 -0.01016 850.14375 75.80400)" d="M515 0L515 1237L197 1010L197 1180L530 1409L696 1409L696 0Z" stroke="#000" stroke-width="0.45" vector-effect="non-scaling-stroke"/>
<path transform="matrix(0.00977 0.00000 0.00000 -0.01016 1021.41876 126.81680)" d="M515 0L515 1237L197 1010L197 1180L530 1409L696 1409L696 0Z" stroke="#000" stroke-width="0.45" vector-effect="non-scaling-stroke"/>
<path transform="matrix(0.00977 0.00000 0.00000 -0.01016 1259.34375 146.90801)" d="M515 0L515 1237L197 1010L197 1180L530 1409L696 1409L696 0Z" stroke="#000" stroke-width="0.45" vector-effect="non-scaling-stroke"/>
<path transform="matrix(0.00977 0.00000 0.00000 -0.01016 1421.41877 204.00199)" d="M515 0L515 1237L197 1010L197 1180L530 1409L696 1409L696 0Z" stroke="#000" stroke-width="0.45" vector-effect="non-scaling-stroke"/>
<path transform="matrix(0.01416 0.00000 0.00000 -0.01444 830.82812 355.50000)" d="M515 0L515 1237L197 1010L197 1180L530 1409L696 1409L696 0Z" stroke="#000" stroke-width="0.45" vector-effect="non-scaling-stroke"/>
<path transform="matrix(0.01416 0.00000 0.00000 -0.01444 991.28748 354.70001)" d="M515 0L515 1237L197 1010L197 1180L530 1409L696 1409L696 0Z" stroke="#000" stroke-width="0.45" vector-effect="non-scaling-stroke"/>
<path transform="matrix(0.01416 0.00000 0.00000 -0.01444 1225.98755 357.79999)" d="M515 0L515 1237L197 1010L197 1180L530 1409L696 1409L696 0Z" stroke="#000" stroke-width="0.45" vector-effect="non-scaling-stroke"/>
<path transform="matrix(0.01416 0.00000 0.00000 -0.01444 1368.50000 355.70001)" d="M515 0L515 1237L197 1010L197 1180L530 1409L696 1409L696 0Z" stroke="#000" stroke-width="0.45" vector-effect="non-scaling-stroke"/>
<path transform="matrix(0.01416 0.00000 0.00000 -0.01444 1408.82812 355.70001)" d="M515 0L515 1237L197 1010L197 1180L530 1409L696 1409L696 0Z" stroke="#000" stroke-width="0.45" vector-effect="non-scaling-stroke"/>
<path transform="matrix(0.01416 0.00000 0.00000 -0.01487 912.00000 483.20001)" d="M478 0L478 1170L140 959L140 1180L493 1409L759 1409L759 0Z"/>
</g>
</svg>
</body></html>
